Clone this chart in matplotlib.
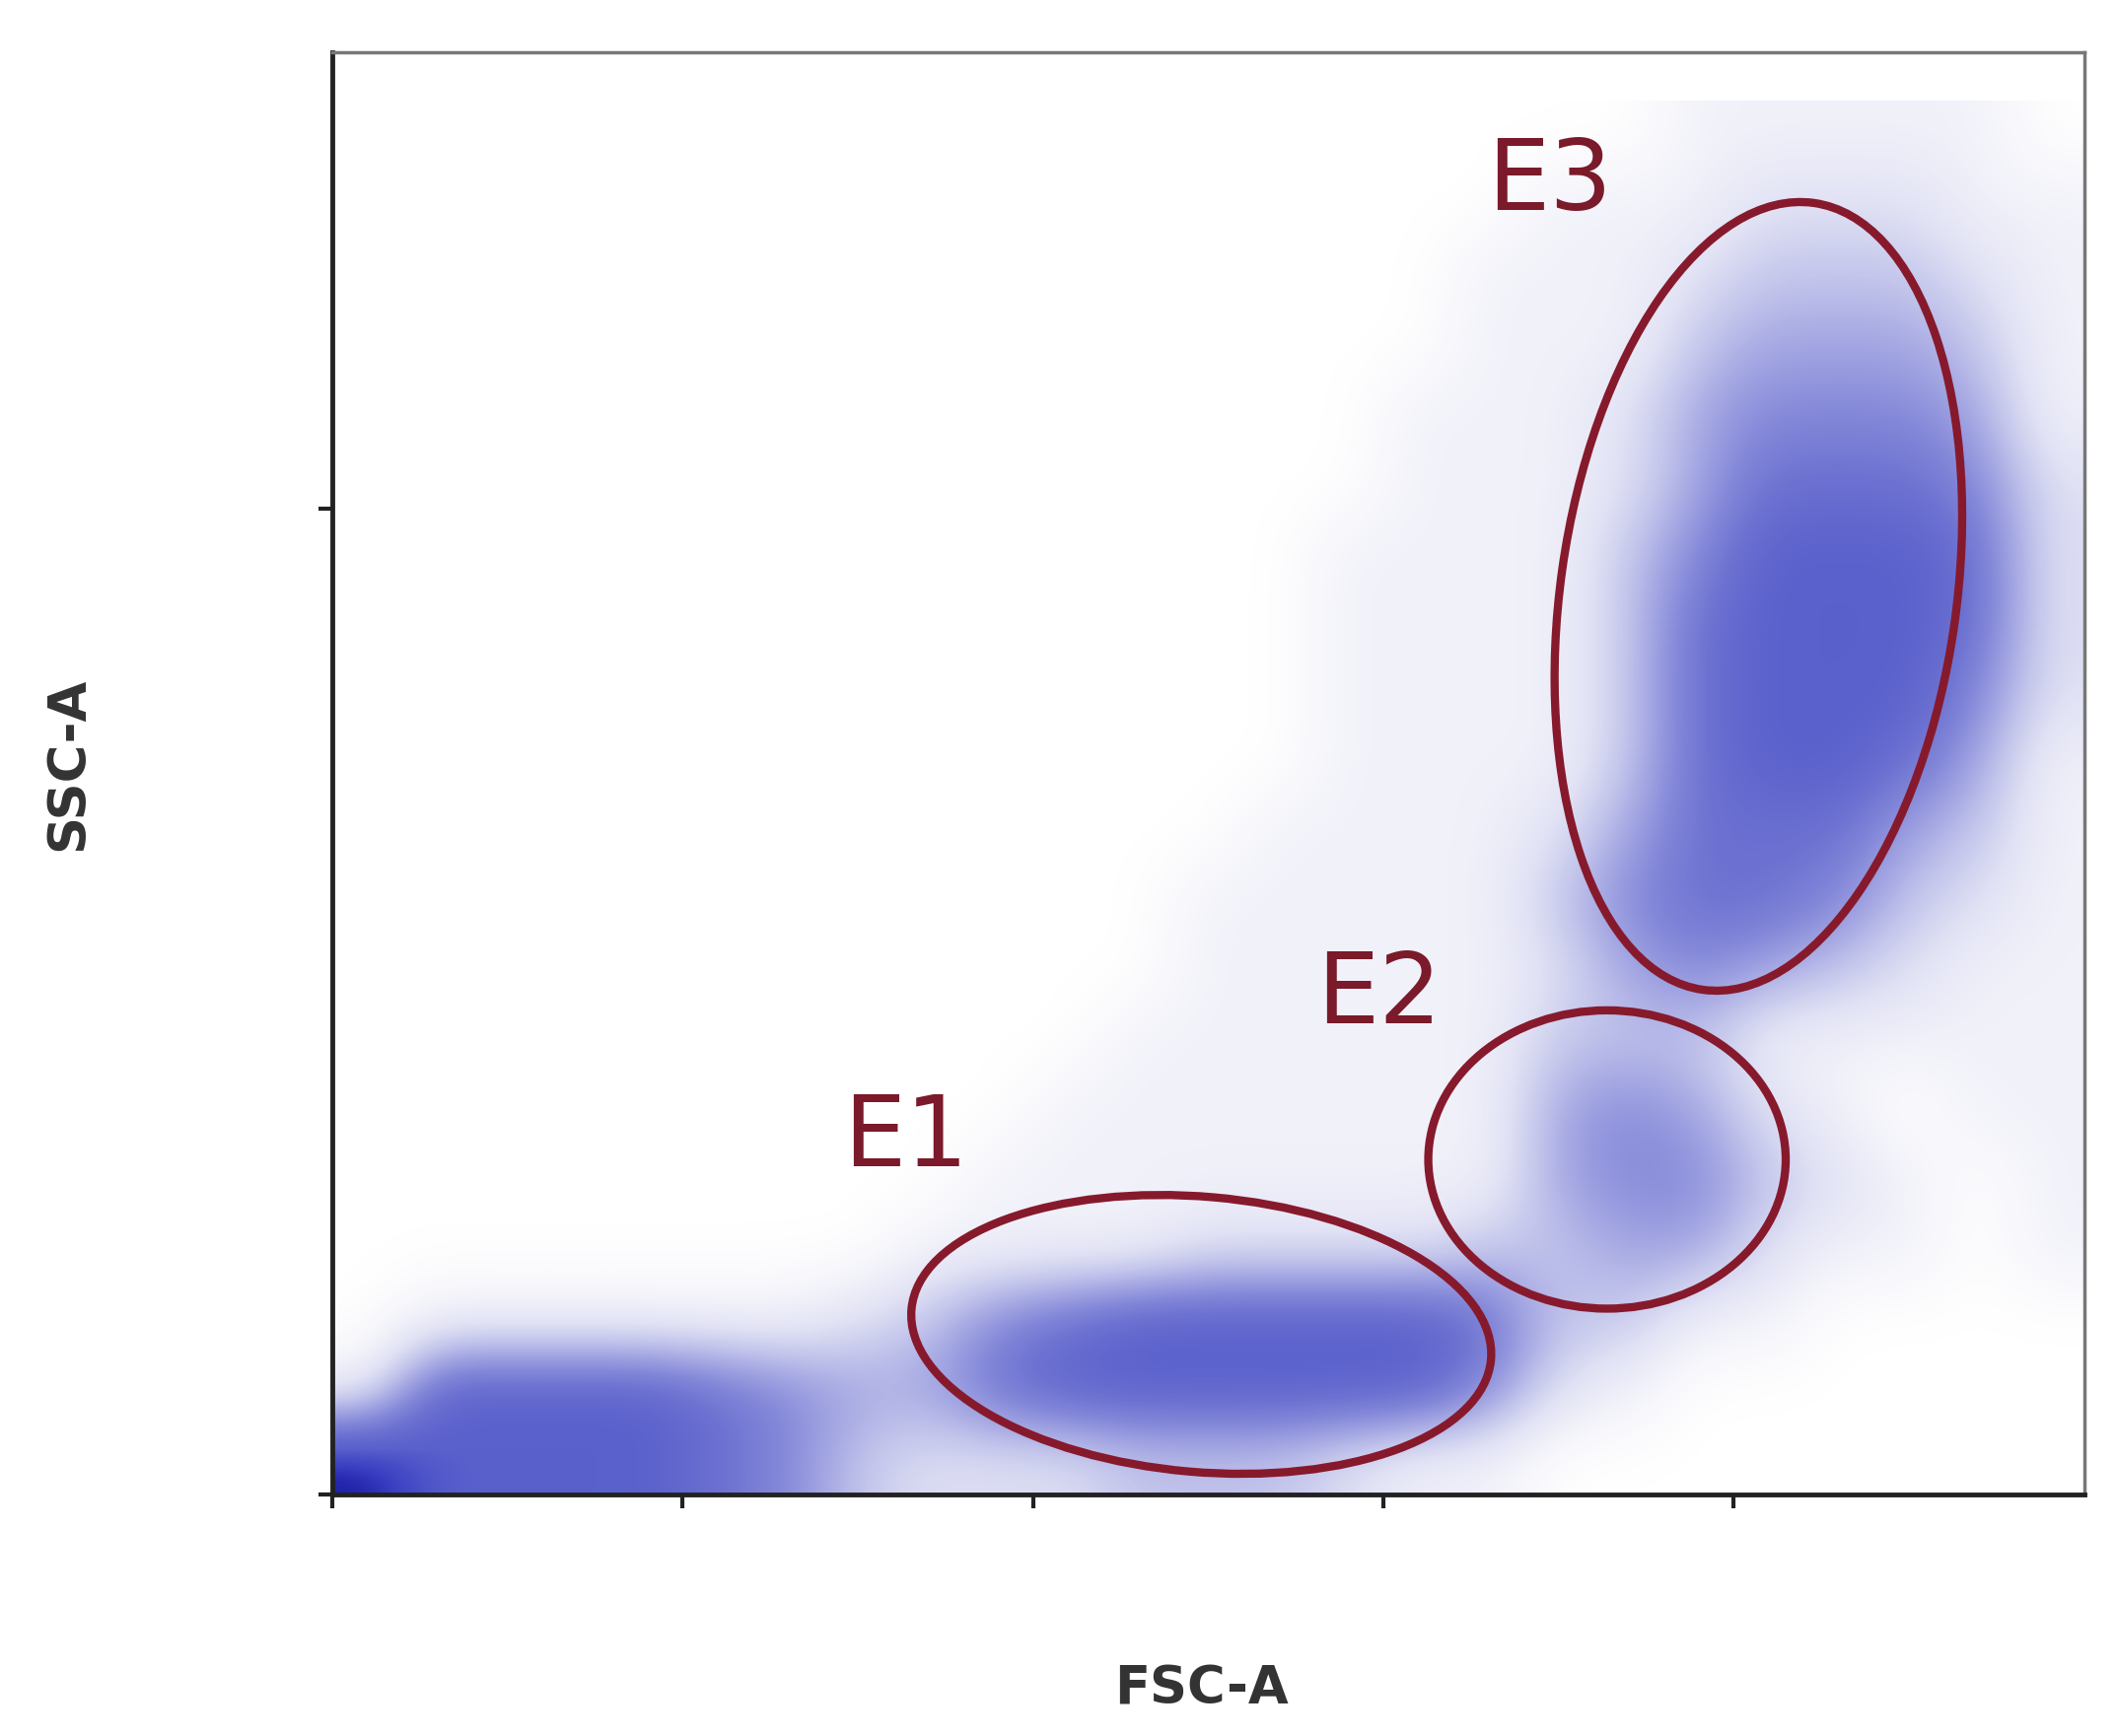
import numpy as np
import matplotlib.pyplot as plt
from matplotlib.patches import Ellipse
from matplotlib.colors import LinearSegmentedColormap

# Event density, 10x10 unit cells, top row first (y 190-200 ... 0-10)
density_rows = [
    "0000000000000000000111110",
    "0000000000000000011122211",
    "0000000000000000111233321",
    "0000000000000000111344431",
    "0000000000000001112455541",
    "0000000000000001112466652",
    "0000000000000011113577762",
    "0000000000000011113677762",
    "0000000000000011113677752",
    "0000000000000011113677641",
    "0000000000000111124666431",
    "0000000000001111135665321",
    "0000000000001111124543211",
    "0000000000011111133311111",
    "0000000000111111145421011",
    "0000000001111111145532101",
    "0000000011112222334421101",
    "0111111235677777633110000",
    "1777765446777777521000000",
    "9777765322233321100000000",
]

# Gates: name, centre x, centre y, width, height, angle
gate_names = ["E1", "E2", "E3"]
gate_cx = [124.0, 181.9, 203.5]
gate_cy = [23.0, 48.1, 128.9]
gate_w = [83.0, 51.0, 114.0]
gate_h = [39.5, 42.8, 56.5]
gate_angle = [-5, 0, 82]
label_x = [81.8, 149.3, 173.7]
label_y = [51.0, 71.5, 188.3]

x_ticks = [0, 50, 100, 150, 200]
y_ticks = [0, 141.5]

grid = np.array([[int(c) for c in row] for row in density_rows], dtype=float)

cmap = LinearSegmentedColormap.from_list(
    "flow", [(0, "#ffffff"), (1 / 9, "#f1f1fa"), (2 / 9, "#e0e1f4"),
             (3 / 9, "#c4c6ec"), (4 / 9, "#a3a6e2"), (5 / 9, "#8488d9"),
             (6 / 9, "#6b70d1"), (7 / 9, "#5a60cc"), (8 / 9, "#3a3fc2"),
             (1, "#10109a")])

fig = plt.figure(figsize=(21.46, 17.61), dpi=100)
ax = fig.add_axes([0.157, 0.139, 0.828, 0.831])

ax.imshow(grid, extent=[0, 250, 0, 200], origin="upper", cmap=cmap,
          vmin=0, vmax=9, interpolation="bicubic", aspect="auto")

gate_color = "#861a2c"
for name, cx, cy, w, h, a, lx, ly in zip(gate_names, gate_cx, gate_cy, gate_w,
                                         gate_h, gate_angle, label_x, label_y):
    ax.add_patch(Ellipse((cx, cy), w, h, angle=a, fill=False,
                         edgecolor=gate_color, linewidth=6))
    ax.text(lx, ly, name, color="#7a1a2a", fontsize=72, ha="center", va="center")

ax.set_xlim(0, 250)
ax.set_ylim(0, 207)
ax.set_xticks(x_ticks)
ax.set_yticks(y_ticks)
ax.set_xticklabels([])
ax.set_yticklabels([])
ax.tick_params(direction="out", length=10, width=3, color="#222222")

for side in ["left", "bottom"]:
    ax.spines[side].set_linewidth(3.5)
    ax.spines[side].set_color("#222222")
for side in ["top", "right"]:
    ax.spines[side].set_linewidth(2.5)
    ax.spines[side].set_color("#777777")

fig.text(0.0325, 0.56, "SSC-A", rotation=90, ha="center", va="center",
         fontsize=38, fontweight="bold", color="#333333")
fig.text(0.568, 0.027, "FSC-A", ha="center", va="center",
         fontsize=38, fontweight="bold", color="#333333")

fig.savefig("out.png", dpi=100, facecolor="white")
